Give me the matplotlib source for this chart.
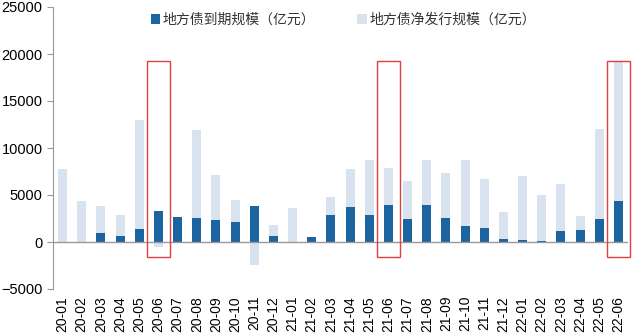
import matplotlib.pyplot as plt
import numpy as np
from matplotlib.patches import Rectangle

plt.rcParams["font.family"] = ["Liberation Sans", "Noto Sans CJK SC", "DejaVu Sans"]

months = [
    "20-01", "20-02", "20-03", "20-04", "20-05", "20-06", "20-07", "20-08",
    "20-09", "20-10", "20-11", "20-12", "21-01", "21-02", "21-03", "21-04",
    "21-05", "21-06", "21-07", "21-08", "21-09", "21-10", "21-11", "21-12",
    "22-01", "22-02", "22-03", "22-04", "22-05", "22-06",
]
# 到期规模（亿元）
maturity = [
    0, 0, 920, 670, 1350, 3330, 2700, 2550,
    2380, 2160, 3830, 640, 0, 530, 2870, 3720,
    2840, 3970, 2480, 3940, 2520, 1670, 1450, 280,
    250, 70, 1130, 1310, 2410, 4330,
]
# 净发行规模（亿元）
net_issue = [
    7800, 4330, 3830, 2840, 13010, -530, 0, 11950,
    7160, 4430, -2480, 1770, 3580, 0, 4750, 7730,
    8690, 7910, 6490, 8760, 7370, 8690, 6740, 3160,
    6990, 5030, 6170, 2770, 12060, 19260,
]
highlight = ["20-06", "21-06", "22-06"]

DARK = "#1c64a0"
LIGHT = "#d9e3f0"

fig = plt.figure(figsize=(6.4, 3.34), dpi=100)
ax = fig.add_axes([53 / 640, 1 - 289 / 334, 575 / 640, 282 / 334])

x = np.arange(len(months))
ax.bar(x, net_issue, width=0.47, color=LIGHT, label="地方债净发行规模（亿元）", zorder=2)
ax.bar(x, maturity, width=0.47, color=DARK, label="地方债到期规模（亿元）", zorder=3)
ax.axhline(0, color="#999999", lw=1.0, zorder=4)

for m in highlight:
    i = months.index(m)
    ax.add_patch(Rectangle((i - 0.62, -1600), 1.24, 20850, fill=False,
                           ec="#e04040", lw=1.0, zorder=5, clip_on=False))

ax.set_xlim(-0.5, 29.5)
ax.set_ylim(-5000, 25000)
ax.set_yticks(range(-5000, 25001, 5000))
ax.set_xticks(x)
ax.set_xticklabels(months, rotation=90, fontsize=10)
ax.tick_params(axis="x", length=0, pad=5)
ax.tick_params(axis="y", labelsize=10.5, length=4, color="#999999", direction="out")

for s in ("top", "right", "bottom"):
    ax.spines[s].set_visible(False)
ax.spines["left"].set_color("#999999")

handles, labels = ax.get_legend_handles_labels()
leg = fig.legend(handles[::-1], labels[::-1], loc="upper left", bbox_to_anchor=(138 / 640, 1.0),
                 ncol=2, frameon=False, handlelength=0.7, handleheight=0.7,
                 handletextpad=0.2, columnspacing=3.0,
                 prop={"family": ["Noto Sans CJK SC"], "size": 10})
for t in leg.get_texts():
    t.set_color("#333333")

fig.savefig("out.png", dpi=100)
